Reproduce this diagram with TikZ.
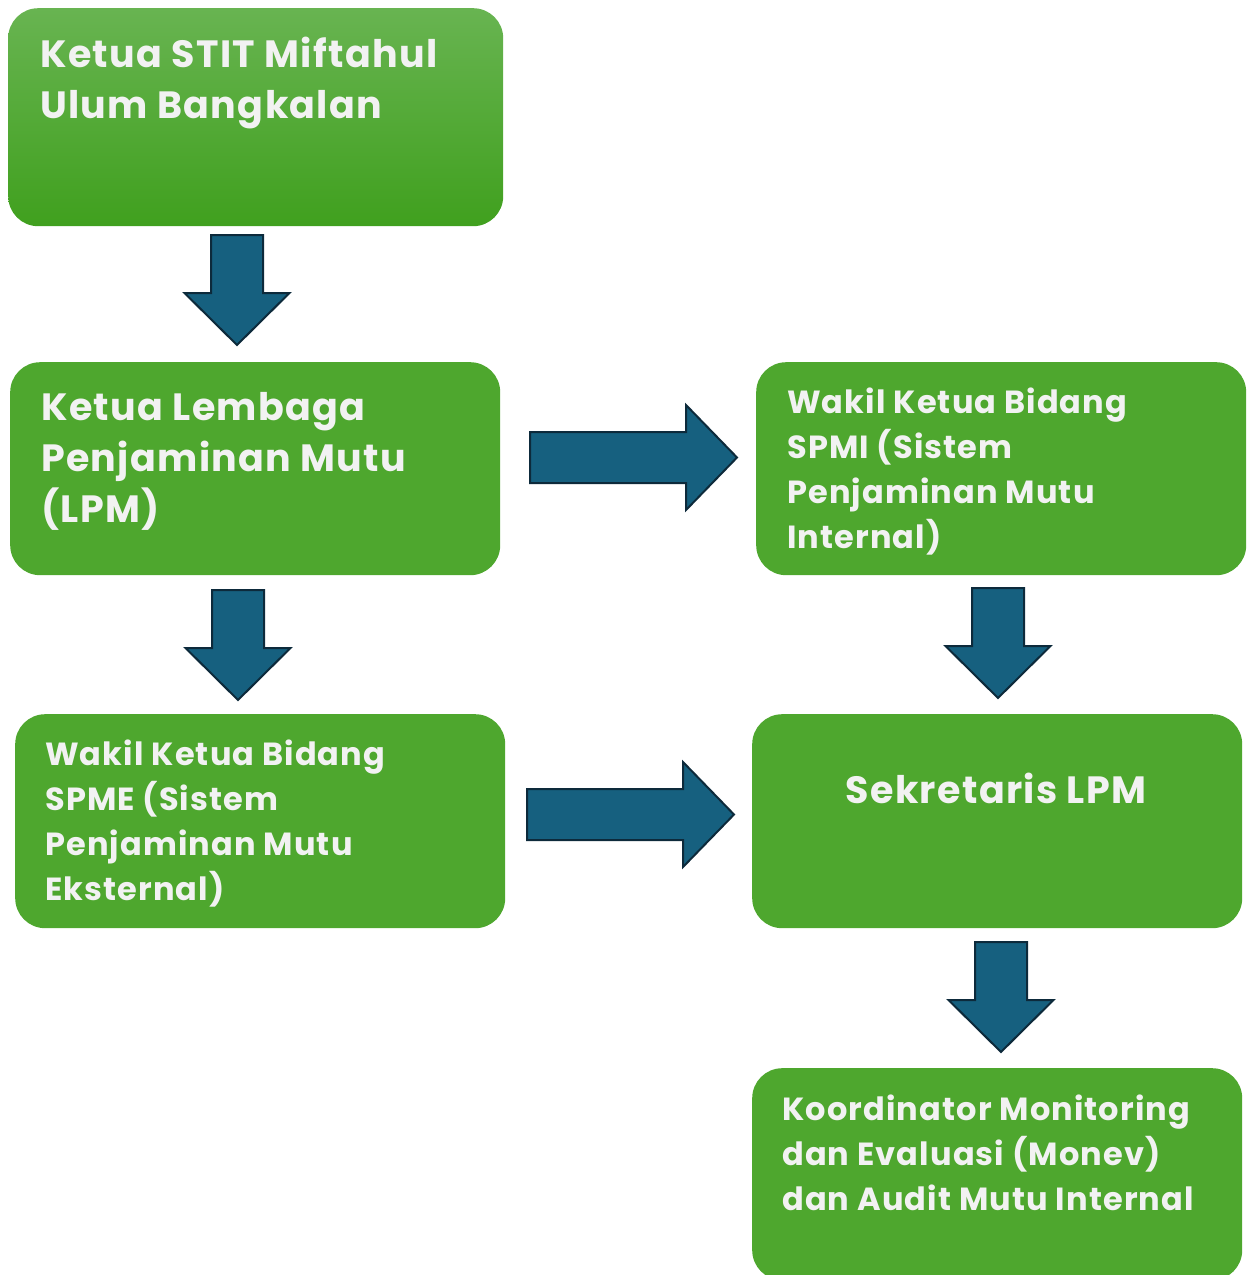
\documentclass[tikz,border=0pt]{standalone}
\usepackage{fontspec}
\setmainfont{Poppins}[LetterSpace=3.5]
\usetikzlibrary{calc}
\definecolor{boxgreen}{HTML}{4EA72E}
\definecolor{gtop}{HTML}{68B451}
\definecolor{gbot}{HTML}{40A01E}
\definecolor{arrowblue}{HTML}{16607F}
\definecolor{arrowline}{HTML}{0D2A3B}
\definecolor{txt}{HTML}{F2F2F2}
\tikzset{
  box/.style={draw=none, fill=boxgreen, rounded corners=30pt, minimum width=490pt, minimum height=213pt, anchor=north west, inner sep=0pt},
  bigtext/.style={text=txt, inner sep=0pt, align=left, anchor=base west, font=\fontsize{38}{51}\selectfont\bfseries},
  smalltext/.style={text=txt, inner sep=0pt, align=left, anchor=base west, font=\fontsize{32}{44.7}\selectfont\bfseries},
  blockarrow/.style={fill=arrowblue, draw=arrowline, line width=2pt, line join=miter},
  pics/downblock/.style={code={
    \draw[blockarrow] (-26pt,0pt) -- (26pt,0pt) -- (26pt,-58pt) -- (52.5pt,-58pt) -- (0pt,-110pt) -- (-52.5pt,-58pt) -- (-26pt,-58pt) -- cycle;}},
  pics/rightblock/.style={code={
    \draw[blockarrow] (0pt,-25.5pt) -- (156pt,-25.5pt) -- (156pt,-52.5pt) -- (207pt,0pt) -- (156pt,52.5pt) -- (156pt,25.5pt) -- (0pt,25.5pt) -- cycle;}}
}
\begin{document}
\begin{tikzpicture}[x=1pt,y=-1pt]
\useasboundingbox (0,0) rectangle (1248,1275);
% boxes
\node[box, fill=none, top color=gtop, bottom color=gbot, minimum width=495pt, minimum height=218pt] (ketua) at (8,8) {};
\node[box] (lpm) at (10,362) {};
\node[box] (spmi) at (756,362) {};
\node[box, minimum height=214pt] (spme) at (15,714) {};
\node[box, minimum height=214pt] (sekr) at (752,714) {};
\node[box, minimum height=212pt] (koord) at (752,1068) {};
% texts (anchor = baseline of last line)
\node[bigtext] (tketua) at (40,118) {Ketua STIT Miftahul\\Ulum Bangkalan};
\node[bigtext] (tlpm) at (41,522) {Ketua Lembaga\\Penjaminan Mutu\\(LPM)};
\node[smalltext] (tspmi) at (787,548) {Wakil Ketua Bidang\\SPMI (Sistem\\Penjaminan Mutu\\Internal)};
\node[smalltext] (tspme) at (45,900) {Wakil Ketua Bidang\\SPME (Sistem\\Penjaminan Mutu\\Eksternal)};
\node[bigtext, anchor=base] (tsekr) at (996,803) {Sekretaris LPM};
\node[smalltext] (tkoord) at (782,1210) {Koordinator Monitoring\\dan Evaluasi (Monev)\\dan Audit Mutu Internal};
% block arrows
\pic at (237,235) {downblock};
\pic at (530,457.5) {rightblock};
\pic at (238,590) {downblock};
\pic at (998,588) {downblock};
\pic at (527,814.5) {rightblock};
\pic at (1001,942) {downblock};
\end{tikzpicture}
\end{document}
